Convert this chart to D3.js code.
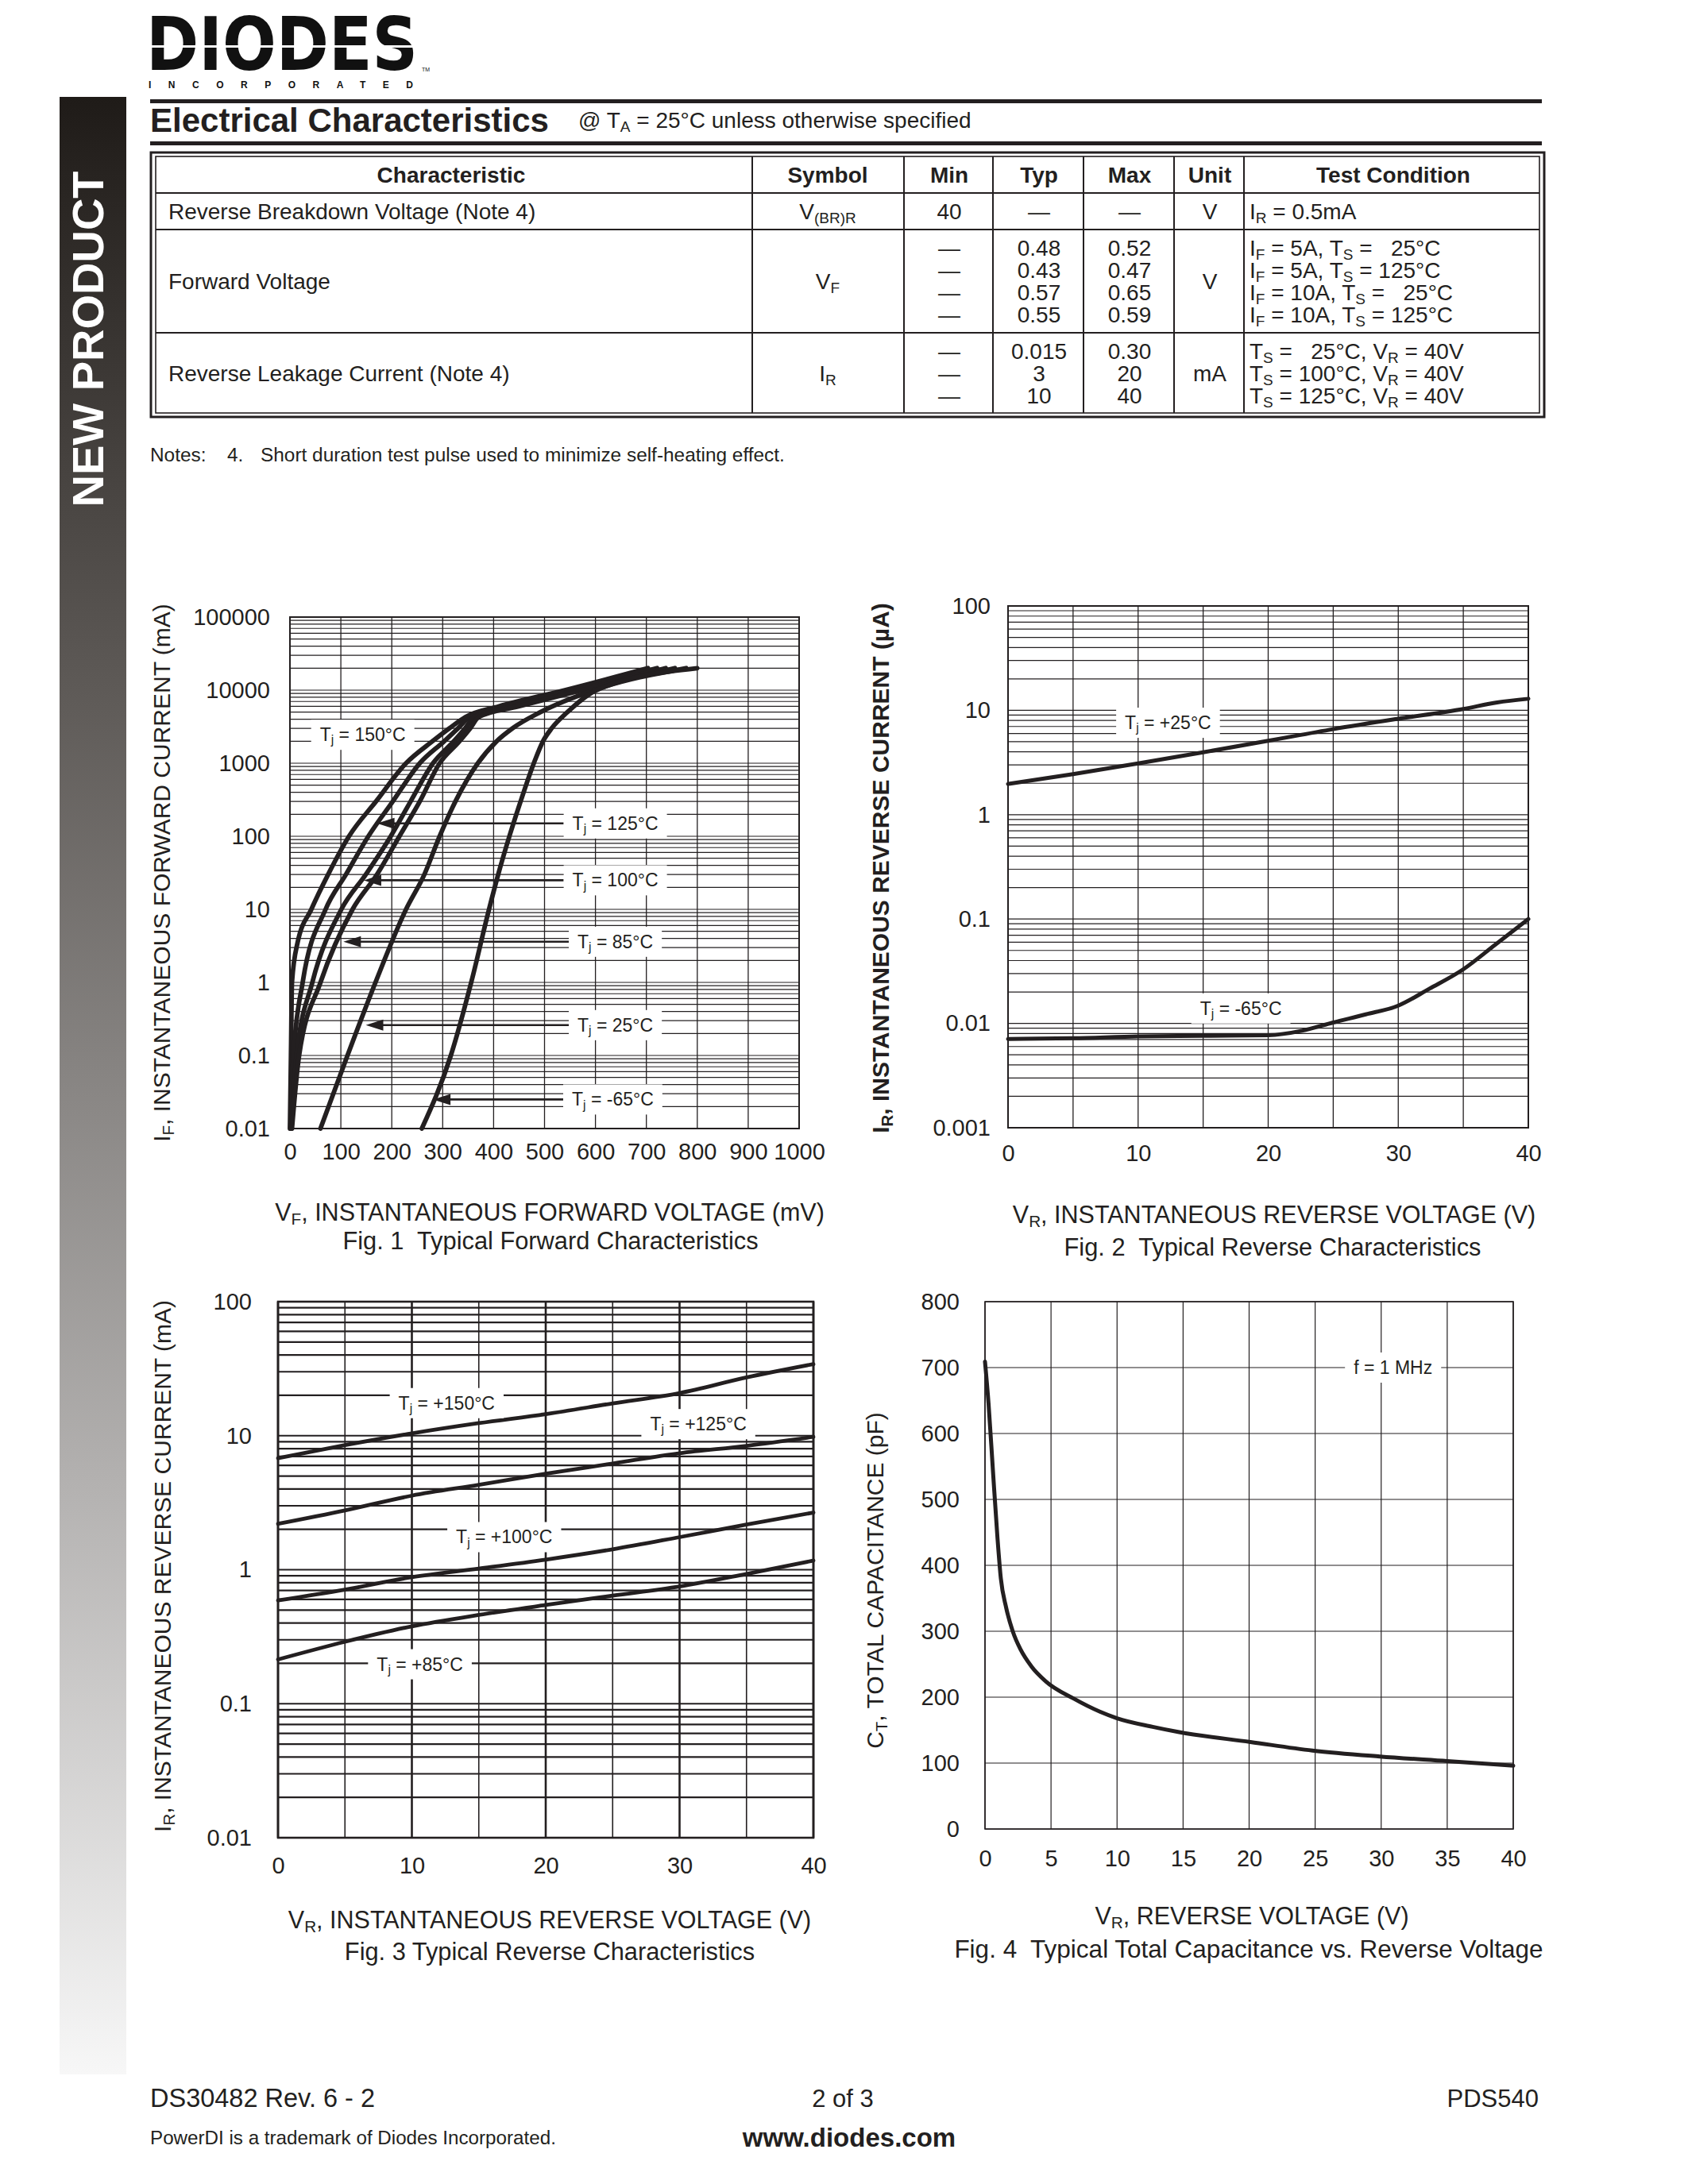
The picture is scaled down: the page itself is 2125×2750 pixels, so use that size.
<!DOCTYPE html>
<html><head><meta charset="utf-8">
<script src="https://cdn.jsdelivr.net/npm/d3@7"></script>
<style>
html,body{margin:0;padding:0;background:#fff;}
svg{display:block;font-family:"Liberation Sans",Arial,Helvetica,sans-serif;}
text{white-space:pre;}
</style></head><body>
<svg id="page" width="2125" height="2750"></svg>
<script>
// ================= DATA =================
// Table
const tableHeaders = ["Characteristic","Symbol","Min","Typ","Max","Unit","Test Condition"];
const rowCharacteristics = ["Reverse Breakdown Voltage (Note 4)","Forward Voltage","Reverse Leakage Current (Note 4)"];
const rowSymbols = ["V{(BR)R}","V{F}","I{R}"];
const rowMin = [["40"],["—","—","—","—"],["—","—","—"]];
const rowTyp = [["—"],["0.48","0.43","0.57","0.55"],["0.015","3","10"]];
const rowMax = [["—"],["0.52","0.47","0.65","0.59"],["0.30","20","40"]];
const rowUnit = ["V","V","mA"];
const rowCond = [["I{R} = 0.5mA"],
  ["I{F} = 5A, T{S} =   25°C","I{F} = 5A, T{S} = 125°C","I{F} = 10A, T{S} =   25°C","I{F} = 10A, T{S} = 125°C"],
  ["T{S} =   25°C, V{R} = 40V","T{S} = 100°C, V{R} = 40V","T{S} = 125°C, V{R} = 40V"]];

// Fig 1: forward voltage (mV) vs forward current (mA)
const fig1XTicks = [0,100,200,300,400,500,600,700,800,900,1000];
const fig1YTicks = [0.01,0.1,1,10,100,1000,10000,100000];
const fig1YTickLabels = ["0.01","0.1","1","10","100","1000","10000","100000"];
const fig1Tj150 = [[0,0.01],[2,0.1],[4,1],[15,3.5],[42,10],[75,30],[116,100],[169,300],[228,1000],[280,2000],[313,3000],[345,4300],[410,6000],[540,10000],[703,20000]];
const fig1Tj125 = [[1,0.01],[7,0.1],[25,1],[70,10],[110,30],[154,100],[202,300],[255,1000],[303,2000],[330,3000],[353,4300],[424,6000],[552,10000],[721,20000]];
const fig1Tj100 = [[3,0.01],[13,0.1],[44,1],[101,10],[149,30],[198,100],[237,300],[281,1000],[322,2000],[344,3000],[362,4300],[437,6000],[563,10000],[738,20000]];
const fig1Tj85  = [[4,0.01],[18,0.1],[60,1],[123,10],[171,30],[215,100],[255,300],[294,1000],[333,2000],[354,3000],[371,4300],[449,6000],[574,10000],[756,20000]];
const fig1Tj25  = [[60,0.01],[113,0.1],[168,1],[228,10],[264,30],[294,100],[325,300],[369,1000],[406,2000],[437,3000],[492,5000],[597,10000],[778,20000]];
const fig1TjM65 = [[259,0.01],[316,0.1],[356,1],[391,10],[409,30],[431,100],[453,300],[479,1000],[497,2000],[514,3000],[545,5000],[602,10000],[800,20000]];
const fig1Labels = [
  {text:"T{j} = 150°C", at:[143,2450], tip:null},
  {text:"T{j} = 125°C", at:[639,150], tip:[171,150]},
  {text:"T{j} = 100°C", at:[639,25], tip:[145,25]},
  {text:"T{j} = 85°C",  at:[639,3.6], tip:[105,3.6]},
  {text:"T{j} = 25°C",  at:[639,0.26], tip:[149,0.26]},
  {text:"T{j} = -65°C", at:[634,0.025], tip:[281,0.025]}
];

// Fig 2: reverse voltage (V) vs reverse current (µA)
const fig2XTicks = [0,10,20,30,40];
const fig2YTicks = [0.001,0.01,0.1,1,10,100];
const fig2YTickLabels = ["0.001","0.01","0.1","1","10","100"];
const fig2Tj25  = [[0,1.97],[5,2.45],[10,3.1],[15,3.96],[20,5.1],[25,6.6],[30,8.3],[35,10.3],[37.6,11.9],[40,12.9]];
const fig2TjM65 = [[0,0.0071],[5,0.0072],[10,0.0075],[15,0.0076],[20,0.0077],[22.6,0.0085],[25,0.0102],[27.5,0.0122],[30,0.0148],[32.4,0.0215],[35,0.033],[37.4,0.056],[40,0.1]];
const fig2Labels = [
  {text:"T{j} = +25°C", at:[12.3,7.6]},
  {text:"T{j} = -65°C", at:[17.9,0.0139]}
];

// Fig 3: reverse voltage (V) vs reverse current (mA)
const fig3XTicks = [0,10,20,30,40];
const fig3YTicks = [0.01,0.1,1,10,100];
const fig3YTickLabels = ["0.01","0.1","1","10","100"];
const fig3Tj150 = [[0,6.8],[5,8.5],[10,10.4],[15,12.4],[20,14.5],[25,17.4],[30,20.8],[35,27.2],[40,34.2]];
const fig3Tj125 = [[0,2.2],[5,2.77],[10,3.57],[15,4.3],[20,5.2],[25,6.2],[30,7.4],[35,8.4],[40,9.8]];
const fig3Tj100 = [[0,0.59],[5,0.71],[10,0.88],[15,1.02],[20,1.19],[25,1.42],[30,1.75],[35,2.17],[40,2.67]];
const fig3Tj85  = [[0,0.214],[5,0.29],[10,0.378],[15,0.46],[20,0.545],[25,0.64],[30,0.75],[35,0.93],[40,1.17]];
const fig3Labels = [
  {text:"T{j} = +150°C", at:[12.6,17.5]},
  {text:"T{j} = +125°C", at:[31.4,12.2]},
  {text:"T{j} = +100°C", at:[16.9,1.75]},
  {text:"T{j} = +85°C",  at:[10.6,0.197]}
];

// Fig 4: reverse voltage (V) vs total capacitance (pF)
const fig4XTicks = [0,5,10,15,20,25,30,35,40];
const fig4YTicks = [0,100,200,300,400,500,600,700,800];
const fig4Ct = [[0,709],[0.27,645],[0.6,544],[0.94,443],[1.2,380],[1.6,336],[2.1,300],[2.7,272],[3.5,247],[4.6,224],[6.7,198],[8.7,178],[10,168],[12.7,155],[14.7,147],[20.1,132],[24.8,119],[29.9,110],[35,103],[40,96]];
const fig4Labels = [{text:"f = 1 MHz", at:[30.9,700]}];

// ================= DRAWING =================
const W=2125, H=2750, INK="#231f20";
const svg=d3.select("#page");
svg.append("rect").attr("width",W).attr("height",H).attr("fill","#fff");

function rich(t, str, fs){
  const parts=str.split(/(\{[^}]*\})/).filter(s=>s.length);
  const sh=fs*0.18; let pend=0;
  parts.forEach(p=>{
    if(p[0]==="{"){
      t.append("tspan").attr("font-size",fs*0.68).attr("dy",sh).text(p.slice(1,-1));
      pend=-sh;
    } else {
      const s=t.append("tspan").text(p);
      if(pend){s.attr("dy",pend);pend=0;}
    }
  });
  return t;
}
function txt(g,x,y,str,o={}){
  const fs=o.fs||28;
  const t=g.append("text").attr("x",x).attr("y",y).attr("font-size",fs)
    .attr("text-anchor",o.anchor||"start").attr("font-weight",o.weight||"normal")
    .attr("fill",o.fill||INK);
  if(o.transform) t.attr("transform",o.transform).attr("x",0).attr("y",0);
  if(o.family) t.attr("font-family",o.family);
  rich(t,str,fs);
  return t;
}

// ---- side bar
const defs=svg.append("defs");
const gr=defs.append("linearGradient").attr("id","side").attr("x1",0).attr("y1",0).attr("x2",0).attr("y2",1);
[["0","#1f1b18"],["0.3","#5e5a57"],["0.7","#b3b1b0"],["1","#f7f7f7"]].forEach(s=>gr.append("stop").attr("offset",s[0]).attr("stop-color",s[1]));
svg.append("rect").attr("x",75).attr("y",122).attr("width",84).attr("height",2490).attr("fill","url(#side)");
svg.append("text").attr("transform","translate(130,427) rotate(-90)").attr("text-anchor","middle")
  .attr("font-size",56).attr("font-weight","bold").attr("fill","#fff").text("NEW PRODUCT");

// ---- logo
svg.append("text").attr("transform","translate(184,88) scale(1,1.155)").attr("x",0).attr("y",0)
  .attr("font-family","DejaVu Sans").attr("font-weight","bold")
  .attr("font-size",80).attr("textLength",342).attr("lengthAdjust","spacingAndGlyphs").attr("fill","#111").text("DIODES");
svg.append("rect").attr("x",180).attr("y",57).attr("width",352).attr("height",3).attr("fill","#fff");
svg.append("text").attr("x",531).attr("y",90).attr("font-size",7).attr("fill","#111").text("TM");
svg.append("text").attr("x",187).attr("y",111).attr("font-size",12).attr("font-weight","bold")
  .attr("textLength",333).attr("lengthAdjust","spacing").attr("fill","#111").text("INCORPORATED");

// ---- header
svg.append("rect").attr("x",189).attr("y",125).attr("width",1752).attr("height",5).attr("fill",INK);
svg.append("rect").attr("x",189).attr("y",178).attr("width",1752).attr("height",5).attr("fill",INK);
txt(svg,189,166,"Electrical Characteristics",{fs:42,weight:"bold"});
txt(svg,728,161,"@ T{A} = 25°C unless otherwise specified",{fs:28});

// ---- table
const tg=svg.append("g");
const colX=[190,947,1138,1250,1364,1478,1566,1944];
const rowY=[192,243,289,419,525];
tg.append("rect").attr("x",190).attr("y",192).attr("width",1754).attr("height",333).attr("fill","none").attr("stroke",INK).attr("stroke-width",3);
tg.append("rect").attr("x",196).attr("y",197).attr("width",1742).attr("height",323).attr("fill","none").attr("stroke",INK).attr("stroke-width",1.6);
rowY.slice(1,4).forEach(yv=>tg.append("line").attr("x1",196).attr("x2",1938).attr("y1",yv).attr("y2",yv).attr("stroke",INK).attr("stroke-width",2));
colX.slice(1,7).forEach(xv=>tg.append("line").attr("x1",xv).attr("x2",xv).attr("y1",197).attr("y2",520).attr("stroke",INK).attr("stroke-width",2));
const colC=[568,1042,1195,1308,1422,1523,1754];
tableHeaders.forEach((h,i)=>txt(tg,colC[i],230,h,{fs:28,weight:"bold",anchor:"middle"}));
const lineCenters=[[266],[312,340,368,396],[442,470,498]];
const rowCenters=[266,354,470];
const B=10;
rowCharacteristics.forEach((s,i)=>txt(tg,212,rowCenters[i]+B,s,{fs:28}));
rowSymbols.forEach((s,i)=>txt(tg,1042,rowCenters[i]+B,s,{fs:28,anchor:"middle"}));
rowUnit.forEach((s,i)=>txt(tg,1523,rowCenters[i]+B,s,{fs:28,anchor:"middle"}));
[rowMin,rowTyp,rowMax].forEach((col,ci)=>{
  col.forEach((lines,ri)=>lines.forEach((s,li)=>txt(tg,colC[2+ci],lineCenters[ri][li]+B,s,{fs:28,anchor:"middle"})));
});
rowCond.forEach((lines,ri)=>lines.forEach((s,li)=>txt(tg,1573,lineCenters[ri][li]+B,s,{fs:28})));

// notes
txt(svg,189,581,"Notes:",{fs:24.4});
txt(svg,286,581,"4.",{fs:24.4});
txt(svg,328,581,"Short duration test pulse used to minimize self-heating effect.",{fs:24.4});

// ---- charts
const line=(x,y)=>d3.line().x(d=>x(d[0])).y(d=>y(d[1])).curve(d3.curveMonotoneX);

function buildChart(c){
  const g=svg.append("g");
  const x=d3.scaleLinear().domain(c.xDomain).range([c.left,c.right]);
  const y=(c.log?d3.scaleLog():d3.scaleLinear()).domain(c.yDomain).range([c.bottom,c.top]);
  let hv;
  if(c.log){
    hv=[];
    const lo=Math.round(Math.log10(c.yDomain[0])), hi=Math.round(Math.log10(c.yDomain[1]));
    for(let k=lo;k<hi;k++) for(let m=1;m<10;m++) hv.push(m*Math.pow(10,k));
    hv.push(Math.pow(10,hi));
  } else hv=c.yTicks;
  const grid=g.append("g");
  grid.append("g").selectAll("line").data(hv).join("line")
    .attr("x1",c.left).attr("x2",c.right).attr("y1",d=>y(d)).attr("y2",d=>y(d))
    .attr("stroke",INK).attr("stroke-width",c.hw);
  grid.append("g").selectAll("line").data(c.xGrid).join("line")
    .attr("x1",d=>x(d)).attr("x2",d=>x(d)).attr("y1",c.top).attr("y2",c.bottom)
    .attr("stroke",INK).attr("stroke-width",d=>c.vw(d));
  g.append("rect").attr("x",c.left).attr("y",c.top).attr("width",c.right-c.left).attr("height",c.bottom-c.top)
    .attr("fill","none").attr("stroke",INK).attr("stroke-width",c.frame);

  const lg=g.append("g");
  const boxes=[];
  (c.labels||[]).forEach(L=>{
    const cx=x(L.at[0]), cy=y(L.at[1]);
    const bg=lg.append("rect").attr("fill","#fff");
    const t=txt(lg,cx,cy+8,L.text,{fs:23,anchor:"middle"});
    const bb=t.node().getBBox();
    const padX=11;
    bg.attr("x",bb.x-padX).attr("y",cy-19).attr("width",bb.width+2*padX).attr("height",38);
    boxes.push({L,left:bb.x-padX,cy});
  });
  c.series.forEach(s=>{
    g.append("path").attr("d",line(x,y)(s)).attr("fill","none").attr("stroke",INK)
      .attr("stroke-width",c.cw).attr("stroke-linejoin","round").attr("stroke-linecap","round");
  });
  boxes.forEach(b=>{
    if(!b.L.tip) return;
    const tx=x(b.L.tip[0]), ty=y(b.L.tip[1]);
    g.append("line").attr("x1",b.left).attr("x2",tx+18).attr("y1",b.cy).attr("y2",ty)
      .attr("stroke",INK).attr("stroke-width",2.6);
    g.append("path").attr("d",`M${tx},${ty}L${tx+22},${ty-7}L${tx+22},${ty+7}Z`).attr("fill",INK);
  });
  lg.raise();

  const ya=d3.axisLeft(y).tickValues(c.yTicks).tickSize(0).tickPadding(c.left-c.yLabelRight)
    .tickFormat((d,i)=>c.yTickLabels?c.yTickLabels[i]:String(d));
  const ag=g.append("g").attr("transform",`translate(${c.left},0)`).call(ya);
  ag.select(".domain").remove();
  ag.selectAll("text").attr("font-size",c.tickFs).attr("fill",INK);
  const xa=d3.axisBottom(x).tickValues(c.xTicks).tickSize(0).tickPadding(c.xLabelY-c.bottom-0.36*c.tickFs).tickFormat(d=>String(d));
  const bg2=g.append("g").attr("transform",`translate(0,${c.bottom})`).call(xa);
  bg2.select(".domain").remove();
  bg2.selectAll("text").attr("font-size",c.tickFs).attr("fill",INK);
  ag.attr("font-family",null); bg2.attr("font-family",null);

  txt(g,0,0,c.yTitle,{fs:30,anchor:"middle",weight:c.yTitleWeight||"normal",transform:`translate(${c.yTitleX+11},${c.yTitleY}) rotate(-90)`});
  txt(g,c.xTitleCX,c.xTitleBase,c.xTitle,{fs:30.5,anchor:"middle"});
  txt(g,c.capCX,c.capBase,c.caption,{fs:c.capFs||30.8,anchor:"middle"});
}

// Fig 1
buildChart({
  left:365,right:1006,top:777,bottom:1421,log:true,
  xDomain:[0,1000],yDomain:[0.01,100000],
  xGrid:fig1XTicks,xTicks:fig1XTicks,yTicks:fig1YTicks,yTickLabels:fig1YTickLabels,
  hw:1.2,vw:()=>1.3,frame:2,cw:5.8,tickFs:29,
  yLabelRight:340,xLabelY:1450,
  series:[fig1Tj150,fig1Tj125,fig1Tj100,fig1Tj85,fig1Tj25,fig1TjM65],
  labels:fig1Labels,
  yTitle:"I{F}, INSTANTANEOUS FORWARD CURRENT (mA)",yTitleX:203,yTitleY:1099,
  xTitle:"V{F}, INSTANTANEOUS FORWARD VOLTAGE (mV)",xTitleCX:692,xTitleBase:1537,
  caption:"Fig. 1  Typical Forward Characteristics",capCX:693,capBase:1573
});
// Fig 2
buildChart({
  left:1269,right:1924,top:763,bottom:1420,log:true,
  xDomain:[0,40],yDomain:[0.001,100],
  xGrid:[0,5,10,15,20,25,30,35,40],xTicks:fig2XTicks,yTicks:fig2YTicks,yTickLabels:fig2YTickLabels,
  hw:1.2,vw:()=>1.3,frame:2,cw:5,tickFs:29,
  yLabelRight:1247,xLabelY:1452,
  series:[fig2Tj25,fig2TjM65],labels:fig2Labels,
  yTitle:"I{R}, INSTANTANEOUS REVERSE CURRENT (µA)",yTitleWeight:"bold",yTitleX:1108,yTitleY:1093,
  xTitle:"V{R}, INSTANTANEOUS REVERSE VOLTAGE (V)",xTitleCX:1604,xTitleBase:1540,
  caption:"Fig. 2  Typical Reverse Characteristics",capCX:1602,capBase:1581
});
// Fig 3
buildChart({
  left:350,right:1024,top:1639,bottom:2314,log:true,
  xDomain:[0,40],yDomain:[0.01,100],
  xGrid:[0,5,10,15,20,25,30,35,40],xTicks:fig3XTicks,yTicks:fig3YTicks,yTickLabels:fig3YTickLabels,
  hw:2.2,vw:d=>d%10===0?2.6:1.6,frame:2.6,cw:4.8,tickFs:29,
  yLabelRight:317,xLabelY:2349,
  series:[fig3Tj150,fig3Tj125,fig3Tj100,fig3Tj85],labels:fig3Labels,
  yTitle:"I{R}, INSTANTANEOUS REVERSE CURRENT (mA)",yTitleX:204,yTitleY:1972,
  xTitle:"V{R}, INSTANTANEOUS REVERSE VOLTAGE (V)",xTitleCX:692,xTitleBase:2428,
  caption:"Fig. 3 Typical Reverse Characteristics",capCX:692,capBase:2468
});
// Fig 4
buildChart({
  left:1240,right:1905,top:1639,bottom:2303,log:false,
  xDomain:[0,40],yDomain:[0,800],
  xGrid:fig4XTicks,xTicks:fig4XTicks,yTicks:fig4YTicks,
  hw:1.2,vw:()=>1.2,frame:1.6,cw:5,tickFs:29,
  yLabelRight:1208,xLabelY:2340,
  series:[fig4Ct],labels:fig4Labels,
  yTitle:"C{T}, TOTAL CAPACITANCE (pF)",yTitleX:1101,yTitleY:1990,
  xTitle:"V{R}, REVERSE VOLTAGE (V)",xTitleCX:1576,xTitleBase:2423,
  caption:"Fig. 4  Typical Total Capacitance vs. Reverse Voltage",capCX:1572,capBase:2465,capFs:31.5
});

// ---- footer
txt(svg,189,2653,"DS30482 Rev. 6 - 2",{fs:32.5});
txt(svg,1061,2653,"2 of 3",{fs:31,anchor:"middle"});
txt(svg,1937,2653,"PDS540",{fs:31,anchor:"end"});
txt(svg,189,2700,"PowerDI is a trademark of Diodes Incorporated.",{fs:24.2});
txt(svg,1069,2703,"www.diodes.com",{fs:33,weight:"bold",anchor:"middle"});
</script>
</body></html>
